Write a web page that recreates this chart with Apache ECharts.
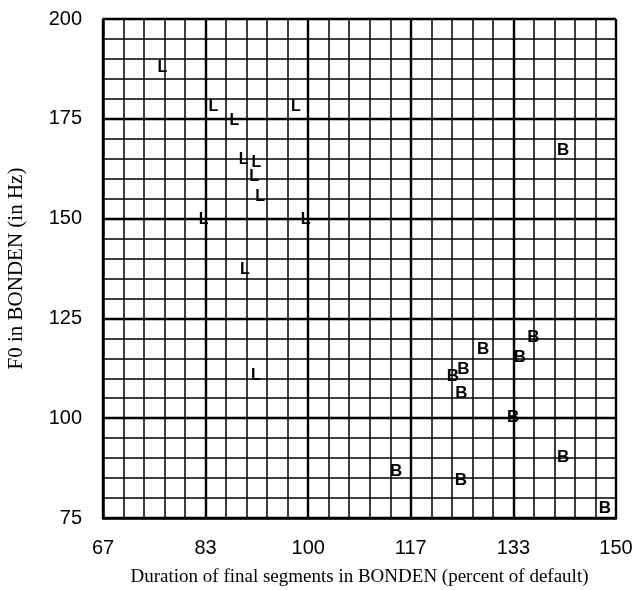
<!DOCTYPE html>
<html>
<head>
<meta charset="utf-8">
<script src="https://cdn.jsdelivr.net/npm/echarts@6/dist/echarts.min.js"></script>
<style>html,body{margin:0;padding:0;background:#fff;}#c{width:638px;height:590px;}</style>
</head>
<body>
<div id="c"></div>
<script>
// Series "L": [duration %, F0 Hz]
const lPoints = [
  [76.3, 187.9], [84.6, 178.0], [88.0, 174.6], [98.0, 178.0],
  [89.5, 164.8], [91.6, 164.1], [91.2, 160.5], [92.2, 155.5],
  [83.0, 149.8], [99.6, 149.8], [89.7, 137.3], [91.5, 110.6]
];
// Series "B": [duration %, F0 Hz]
const bPoints = [
  [141.4, 167.2], [136.6, 120.3], [128.4, 117.3], [134.4, 115.3],
  [125.2, 112.3], [123.5, 110.6], [124.9, 106.2], [133.3, 100.1],
  [141.4, 90.1], [114.3, 86.6], [124.8, 84.5], [148.2, 77.4]
];
const xTicks = [67, 83, 100, 117, 133, 150];
const yTicks = [75, 100, 125, 150, 175, 200];
const xName = 'Duration of final segments in BONDEN (percent of default)';
const yName = 'F0 in BONDEN (in Hz)';

const chart = echarts.init(document.getElementById('c'), null, {renderer: 'canvas'});
const sans = 'Liberation Sans';
const serif = 'Liberation Serif';
const markLabel = (txt, size) => ({
  show: true, position: 'inside', formatter: txt,
  color: '#000', fontFamily: sans, fontSize: size, fontWeight: 'bold',
  textBorderWidth: 0
});
chart.setOption({
  animation: false,
  backgroundColor: '#fff',
  grid: {left: 103, top: 19, right: 22, bottom: 72, containLabel: false, outerBoundsMode: 'none'},
  xAxis: {
    type: 'value', min: 200 / 3, max: 150, interval: 50 / 3,
    name: xName, nameLocation: 'middle', nameGap: 50,
    nameTextStyle: {fontFamily: serif, fontSize: 19, color: '#000'},
    axisLine: {show: true, lineStyle: {color: '#000', width: 2.5}},
    axisTick: {show: false},
    axisLabel: {
      color: '#000', fontFamily: sans, fontSize: 20, margin: 20,
      formatter: (v) => { const r = Math.round(v); return xTicks.includes(r) ? String(r) : ''; }
    },
    splitLine: {show: true, lineStyle: {color: '#000', width: 2.4}},
    minorTick: {show: false, splitNumber: 5},
    minorSplitLine: {show: true, lineStyle: {color: '#000', width: 1.5}}
  },
  yAxis: {
    type: 'value', min: 75, max: 200, interval: 25,
    name: yName, nameLocation: 'middle', nameGap: 76,
    nameTextStyle: {fontFamily: serif, fontSize: 21, color: '#000'},
    axisLine: {show: true, lineStyle: {color: '#000', width: 2.5}},
    axisTick: {show: false},
    axisLabel: {
      color: '#000', fontFamily: sans, fontSize: 20, margin: 21,
      formatter: (v) => yTicks.includes(v) ? String(v) : ''
    },
    splitLine: {show: true, lineStyle: {color: '#000', width: 2.4}},
    minorTick: {show: false, splitNumber: 5},
    minorSplitLine: {show: true, lineStyle: {color: '#000', width: 1.5}}
  },
  series: [
    {
      name: 'L', type: 'scatter', data: lPoints, symbol: 'circle', symbolSize: 0,
      itemStyle: {color: '#000', opacity: 1}, label: markLabel('L', 16), z: 5
    },
    {
      name: 'B', type: 'scatter', data: bPoints, symbol: 'circle', symbolSize: 0,
      itemStyle: {color: '#000', opacity: 1}, label: markLabel('B', 17), z: 5
    }
  ]
});
</script>
</body>
</html>
